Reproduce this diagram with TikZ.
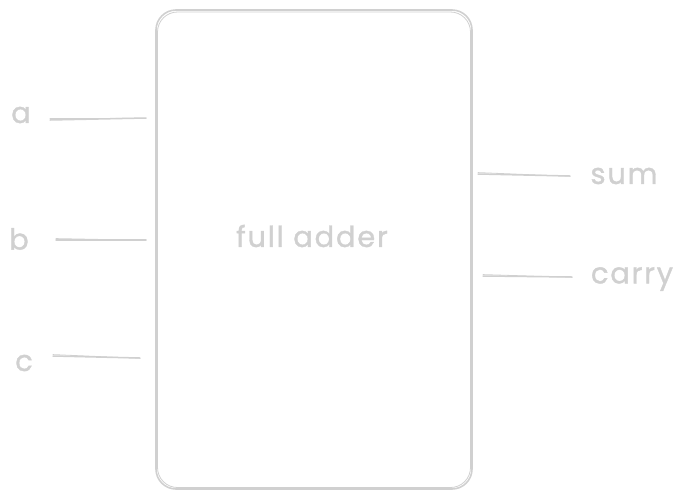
\documentclass[tikz,border=0pt]{standalone}
\usepackage{fontspec}
\setmainfont{Poppins}[LetterSpace=6,FakeBold=1.2]
\definecolor{sketch}{HTML}{D0D0D0}
\tikzset{
  lbl/.style={text=sketch, font=\fontsize{29}{32}\selectfont, inner sep=0pt},
  wire/.style={draw=sketch, line width=1.5pt, line cap=round},
  boxstyle/.style={draw=sketch, line width=1.6pt, rounded corners=20pt}
}
\begin{document}
\begin{tikzpicture}[x=1pt,y=-1pt]
\useasboundingbox (0,0) rectangle (687,496);
% box (sketchy double stroke)
\draw[boxstyle] (156,10) rectangle (472,489);
\draw[boxstyle, line width=0.8pt] (157.5,12) rectangle (470.5,487.5);
\node[lbl] (fa) at (312,236) {full adder};
\node[lbl] (a) at (21,115) {a};
\node[lbl] (b) at (19,239) {b};
\node[lbl] (c) at (24,363) {c};
\node[lbl] (sum) at (624,176) {sum};
\node[lbl] (carry) at (632,279) {carry};
\coordinate (a1) at (50,120); \coordinate (a2) at (146,118);
\coordinate (b1) at (56,240); \coordinate (b2) at (146,240);
\coordinate (c1) at (53,356); \coordinate (c2) at (140,358);
\coordinate (s1) at (478,174); \coordinate (s2) at (570,176);
\coordinate (k1) at (483,276); \coordinate (k2) at (572,277);
\foreach \p/\q in {a1/a2,b1/b2,c1/c2,s1/s2,k1/k2}{
  \draw[wire] (\p) -- (\q);
  \draw[wire, line width=0.8pt] ([yshift=1.4pt]\p) -- ([yshift=-0.3pt]\q);
}
\end{tikzpicture}
\end{document}
